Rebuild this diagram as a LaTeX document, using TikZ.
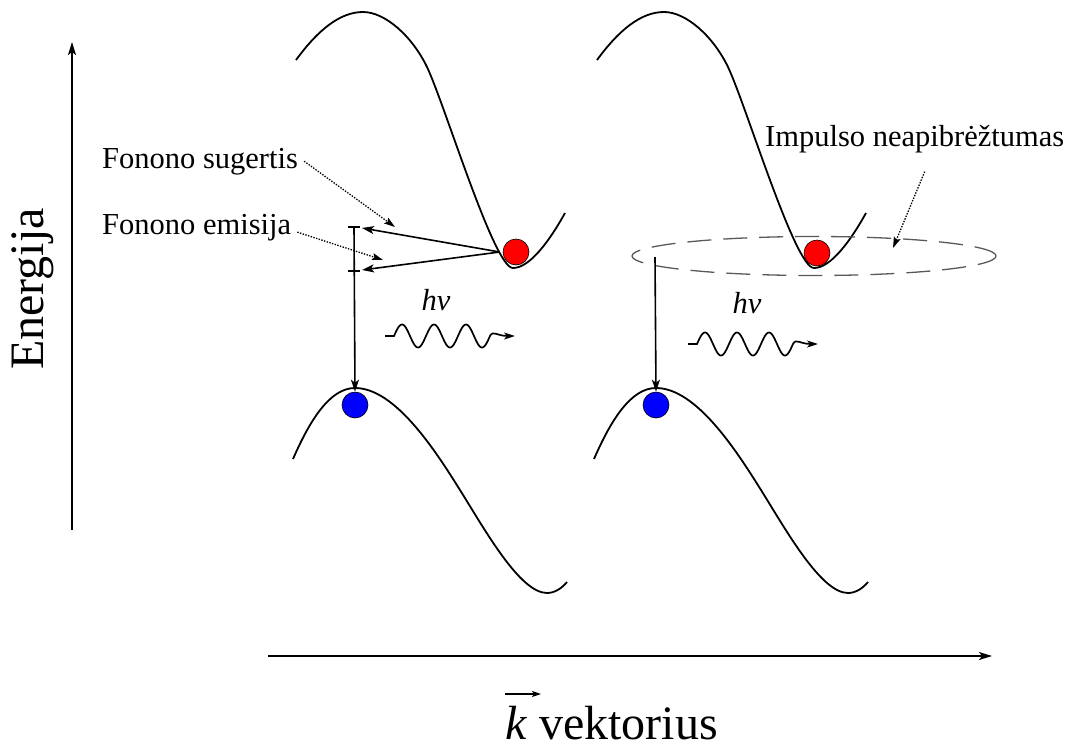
\documentclass[tikz,border=0pt]{standalone}
\usepackage{fontspec}
\setmainfont{Liberation Serif}
\usetikzlibrary{arrows.meta,shapes.geometric}
\begin{document}
\begin{tikzpicture}[x=1pt,y=-1pt,
  band/.style={line width=1.8pt},
  axis/.style={line width=1.8pt,-{Stealth[length=13pt,width=8pt,inset=3pt]}},
  arr/.style={line width=1.6pt,-{Stealth[length=12pt,width=8pt,inset=3pt]}},
  note/.style={line width=1.3pt,dash pattern=on 1.4pt off 1.4pt,-{Stealth[length=11pt,width=7pt,inset=2pt]}},
  lbl/.style={font=\rmfamily\fontsize{30.5}{36}\selectfont,inner sep=0pt},
  big/.style={font=\rmfamily\fontsize{48}{56}\selectfont,inner sep=0pt},
  dot/.style={circle,draw=black,line width=0.6pt,minimum size=26pt,inner sep=0pt},
  tickmark/.style={line width=1.6pt},
  photon/.pic={
    \draw[line width=1.7pt,-{Stealth[length=11pt,width=7pt,inset=3pt]}]
      (0,0) -- (9,0)
      -- plot[domain=0:3,samples=90] ({9+32*\x},{-11.5*sin(360*\x)})
      .. controls (108,-6) and (112,0) .. (130,0);
  }]
\useasboundingbox (0,0) rectangle (1074,745);

% axes
\coordinate (yb) at (72,530);
\coordinate (yt) at (72,42);
\coordinate (xl) at (268,656);
\coordinate (xr) at (992,656);
\draw[axis] (yb) -- (yt);
\draw[axis] (xl) -- (xr);
\node[big,rotate=90,anchor=base] (en) at (43,289) {Energija};
\node[big,anchor=base west,text depth=0pt] (kv) at (505,739) {\textit{k} vektorius};
\draw[line width=1.4pt,-{Stealth[length=9pt,width=6pt,inset=2pt]}]
  ([yshift=45pt]kv.base west) -- ++(36,0);

% bands
\foreach \dx in {0,301}{
  \draw[band,xshift=\dx] (296,60) .. controls (318,30) and (340,12) .. (363,12)
    .. controls (385,12) and (412,36) .. (427,67)
    .. controls (445,105) and (494,268) .. (513,268)
    .. controls (530,268) and (550,240) .. (565,213);
  \draw[band,xshift=\dx] (293,459) .. controls (310,420) and (330,388) .. (355,388)
    .. controls (395,388) and (435,450) .. (460,490)
    .. controls (485,530) and (520,593) .. (547,593)
    .. controls (555,593) and (562,588) .. (567,582);
}

% carriers
\node[dot,fill=red] (rl) at (516,252) {};
\node[dot,fill=red] (rr) at (817,253) {};
\node[dot,fill=blue] (bl) at (355,405) {};
\node[dot,fill=blue] (br) at (656,405) {};

% left transition
\coordinate (ltop) at (354,227);
\coordinate (lmid) at (354,271);
\draw[arr] (ltop) -- (bl.north);
\draw[tickmark] ([xshift=-6pt]ltop) -- ([xshift=6pt]ltop);
\draw[tickmark] ([xshift=-6pt]lmid) -- ([xshift=6pt]lmid);
\draw[arr] ([xshift=-3pt]rl.west) -- ([xshift=8pt,yshift=-1pt]ltop);
\draw[arr] ([xshift=-3pt]rl.west) -- ([xshift=8pt,yshift=1pt]lmid);

\node[lbl,anchor=base west] (sug) at (102,168) {Fonono sugertis};
\node[lbl,anchor=base west] (emi) at (102,234) {Fonono emisija};
\coordinate (sugend) at (395,227);
\coordinate (emiend) at (383,260);
\draw[note] ([xshift=6pt]sug.east) -- (sugend);
\draw[note] ([xshift=6pt,yshift=-5pt]emi.east) -- (emiend);

% right transition
\node[ellipse,draw=black!65,line width=1.3pt,dash pattern=on 24pt off 12pt,
      minimum width=364pt,minimum height=39pt,inner sep=0pt] (unc) at (814,256) {};
\coordinate (rtop) at (655,257);
\draw[arr] (rtop) -- (br.north);
\node[lbl,anchor=base west] (imp) at (765,146) {Impulso neapibrėžtumas};
\coordinate (impend) at (893,248);
\draw[note] ([xshift=10pt,yshift=-19pt]imp.south) -- (impend);

% photons
\pic at (385,336) {photon};
\pic at (688,344) {photon};
\node[lbl,anchor=base] (hv1) at (436,310) {\textit{hν}};
\node[lbl,anchor=base] (hv2) at (747,313) {\textit{hν}};
\end{tikzpicture}
\end{document}
